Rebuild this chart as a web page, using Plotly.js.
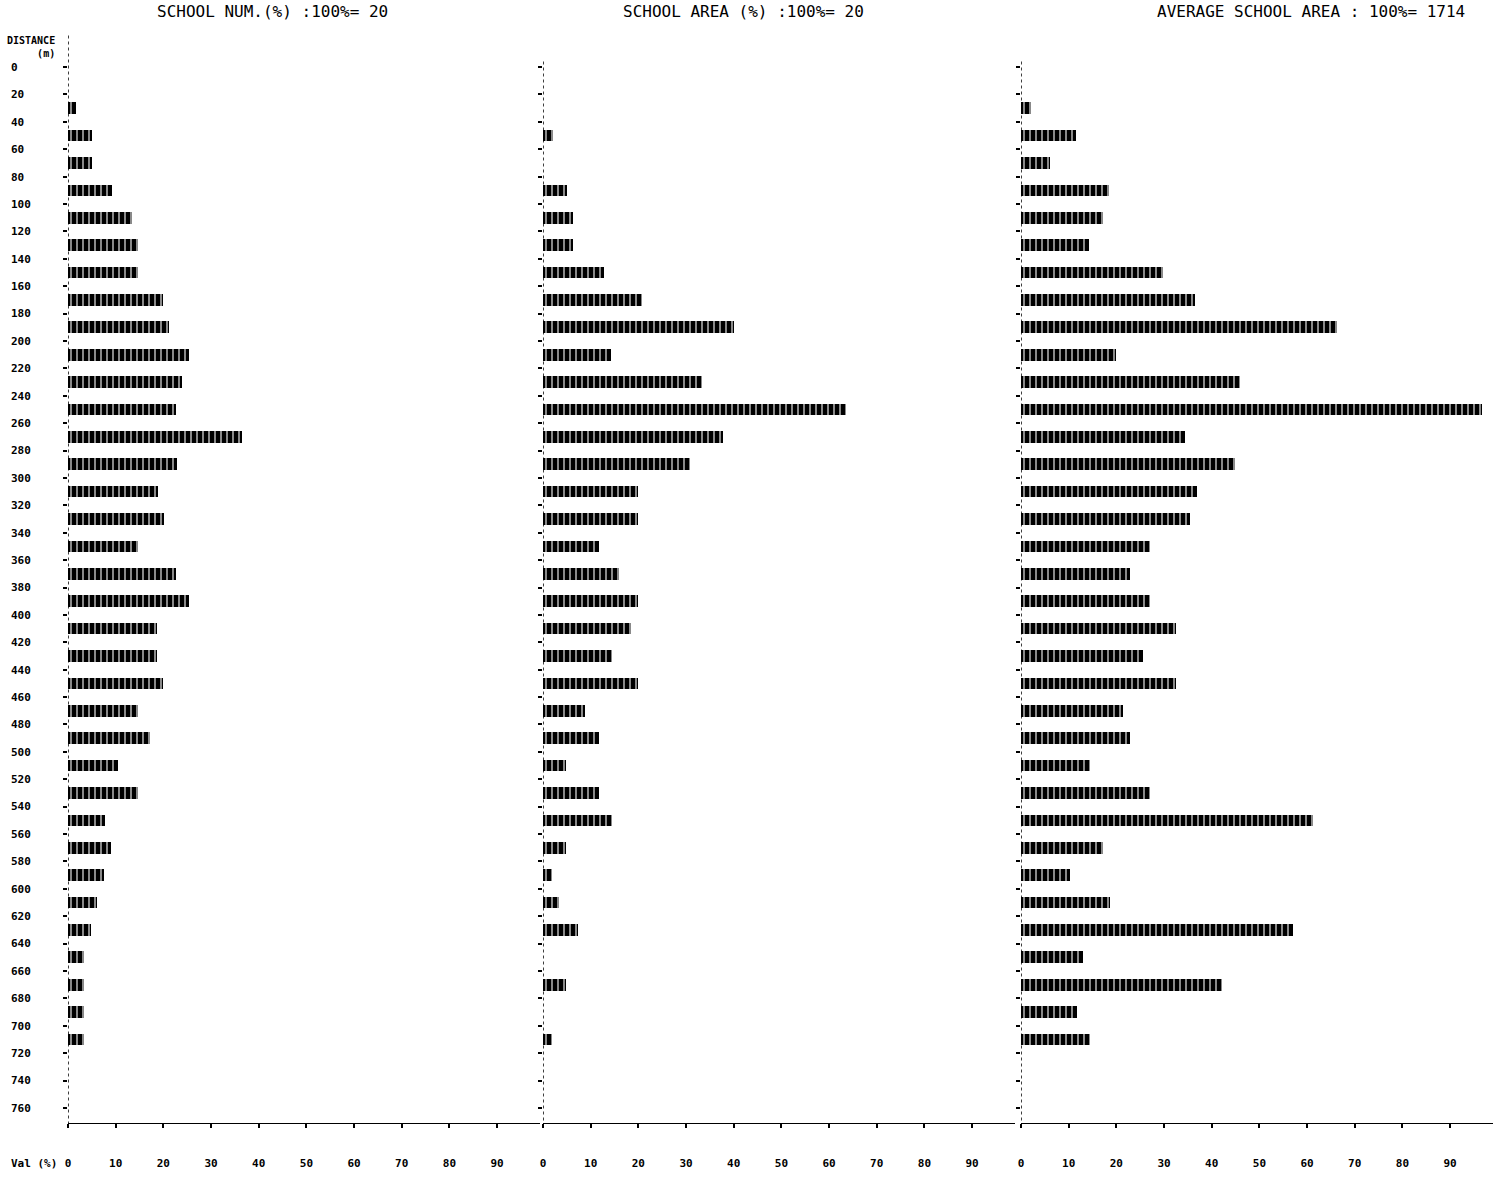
<!DOCTYPE html>
<html>
<head>
<meta charset="utf-8">
<script src="https://cdn.plot.ly/plotly-3.0.1.min.js"></script>
<style>
  html, body { margin: 0; padding: 0; background: #ffffff; }
  #chart { width: 1500px; height: 1178px; }
</style>
</head>
<body>
<div id="chart"></div>
<script>
// ---- data ----
// distance tick labels (m)
const distanceTicks = [0,20,40,60,80,100,120,140,160,180,200,220,240,260,280,300,320,340,360,380,
                       400,420,440,460,480,500,520,540,560,580,600,620,640,660,680,700,720,740,760];
// interval start of each bar (m); each bar covers [start, start+20)
const intervalStart = [0,20,40,60,80,100,120,140,160,180,200,220,240,260,280,300,320,340,360,380,
                       400,420,440,460,480,500,520,540,560,580,600,620,640,660,680,700,720,740];
// SCHOOL NUM. (%)
const schoolNum = [0,1.6,5.0,5.0,9.2,13.5,14.7,14.7,20.0,21.2,25.4,24.0,22.6,36.4,22.8,18.8,20.2,14.6,22.6,25.4,
                   18.6,18.6,20.0,14.6,17.2,10.5,14.6,7.8,9.0,7.5,6.1,4.8,3.4,3.4,3.4,3.4,0,0];
// SCHOOL AREA (%)
const schoolArea = [0,0,2.2,0,5.0,6.2,6.2,12.8,20.7,40.0,14.3,33.4,63.5,37.8,30.8,19.9,19.9,11.7,15.9,19.9,
                    18.4,14.5,19.9,8.8,11.7,4.8,11.7,14.5,4.8,1.9,3.4,7.3,0,4.8,0,1.9,0,0];
// AVERAGE SCHOOL AREA (%)
const avgArea = [0,2.1,11.5,6.1,18.4,17.3,14.3,29.8,36.5,66.2,19.9,45.9,96.6,34.4,44.9,36.9,35.4,27.0,22.9,27.0,
                 32.5,25.6,32.5,21.4,22.9,14.5,27.0,61.2,17.2,10.3,18.7,57.0,13.0,42.1,11.7,14.5,0,0];
// x tick values (%)
const valTicks = [0,10,20,30,40,50,60,70,80,90];
// panel titles
const panelTitles = ["SCHOOL NUM.(%) :100%= 20", "SCHOOL AREA (%) :100%= 20", "AVERAGE SCHOOL AREA : 100%= 1714"];

// ---- build ----
const W = 1500, H = 1178;
const mono = "DejaVu Sans Mono, monospace";
const barY = intervalStart.map(s => s + 10);
const pad3 = s => { s = String(s); while (s.length < 3) s += "\u00a0"; return s; };

const pattern = {shape: "|", fgcolor: "#ffffff", bgcolor: "#000000", size: 6, solidity: 0.18, fillmode: "replace"};
function barTrace(vals, xa, ya) {
  return {
    type: "bar", orientation: "h", x: vals, y: barY, width: 8.5,
    xaxis: xa, yaxis: ya, base: 0,
    marker: {color: "#000000", line: {width: 0}, pattern: pattern},
    hoverinfo: "x+y", showlegend: false
  };
}
const traces = [
  barTrace(schoolNum, "x", "y"),
  barTrace(schoolArea, "x2", "y2"),
  barTrace(avgArea, "x3", "y3")
];

const yTop = 1 - 26 / H, yBot = 1 - 1123 / H;
const yRange = [771, -30];
const doms = [[68 / W, 540 / W], [543 / W, 1015 / W], [1021 / W, 1493 / W]];

function xAxis(i, anchor) {
  return {
    domain: doms[i], anchor: anchor, range: [0, 99],
    tickvals: valTicks, ticktext: valTicks.map(String),
    ticks: "outside", ticklen: 4, tickwidth: 2, tickcolor: "#000",
    showline: true, linecolor: "#000", linewidth: 1,
    showgrid: false, zeroline: false, fixedrange: true,
    ticklabelstandoff: 26,
    tickfont: {family: mono, size: 11, color: "#000", weight: "bold"}
  };
}
function yAxis(i, anchor, labels) {
  return {
    domain: [yBot, yTop], anchor: anchor, range: yRange,
    tickvals: distanceTicks, ticktext: distanceTicks.map(pad3),
    showticklabels: labels,
    ticks: "outside", ticklen: 4, tickwidth: 2, tickcolor: "#000",
    showline: false, showgrid: false, zeroline: false, fixedrange: true,
    ticklabelstandoff: 30,
    tickfont: {family: mono, size: 11, color: "#000", weight: "bold"}
  };
}

const shapes = [
  {type: "line", xref: "x", yref: "y", x0: 0, x1: 0, y0: -23, y1: 771, line: {color: "#000", width: 1.5, dash: "dot"}},
  {type: "line", xref: "x2", yref: "y2", x0: 0, x1: 0, y0: -4, y1: 771, line: {color: "#000", width: 1.5, dash: "dot"}},
  {type: "line", xref: "x3", yref: "y3", x0: 0, x1: 0, y0: -4, y1: 771, line: {color: "#000", width: 1.5, dash: "dot"}}
];

const titleX = [272 / W, 743 / W, 1311 / W];
const annotations = panelTitles.map((t, i) => ({
  text: t, xref: "paper", yref: "paper", x: titleX[i], y: 1 - 12 / H,
  xanchor: "center", yanchor: "middle", showarrow: false,
  font: {family: mono, size: 16, color: "#000"}
}));
annotations.push({
  text: "DISTANCE<br>(m)", xref: "paper", yref: "paper", x: 57 / W, y: 1 - 33 / H,
  xanchor: "right", yanchor: "top", align: "right", showarrow: false,
  font: {family: mono, size: 10, color: "#000", weight: "bold"}
});
annotations.push({
  text: "Val (%)", xref: "paper", yref: "paper", x: 9 / W, y: 1 - 1163 / H,
  xanchor: "left", yanchor: "middle", showarrow: false,
  font: {family: mono, size: 11, color: "#000", weight: "bold"}
});

const layout = {
  width: W, height: H,
  margin: {l: 0, r: 0, t: 0, b: 0},
  paper_bgcolor: "#ffffff", plot_bgcolor: "#ffffff",
  showlegend: false, bargap: 0,
  xaxis: xAxis(0, "y"), xaxis2: xAxis(1, "y2"), xaxis3: xAxis(2, "y3"),
  yaxis: yAxis(0, "x", true), yaxis2: yAxis(1, "x2", false), yaxis3: yAxis(2, "x3", false),
  shapes: shapes, annotations: annotations
};

Plotly.newPlot("chart", traces, layout, {displayModeBar: false, staticPlot: true});
</script>
</body>
</html>
